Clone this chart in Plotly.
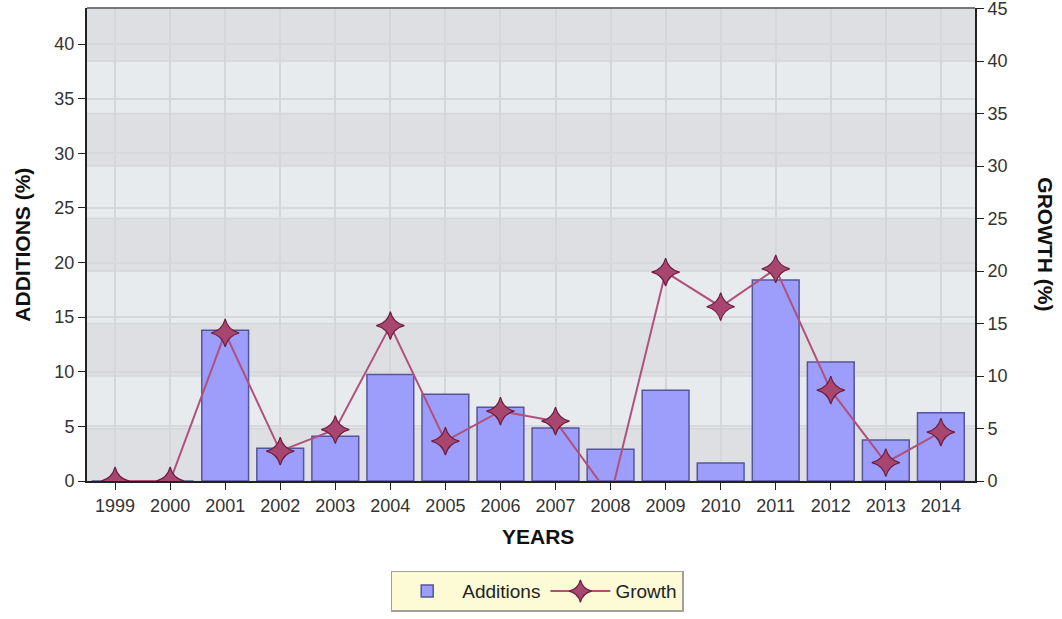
import plotly.graph_objects as go

years = ["1999", "2000", "2001", "2002", "2003", "2004", "2005", "2006",
         "2007", "2008", "2009", "2010", "2011", "2012", "2013", "2014"]
additions = [0, 0, 13.8, 3.0, 4.1, 9.75, 7.95, 6.75, 4.85, 2.9, 8.3, 1.65, 18.4, 10.9, 3.75, 6.25]
growth = [0, 0, 14.1, 2.85, 4.9, 14.8, 3.8, 6.65, 5.7, -1.5, 19.9, 16.6, 20.2, 8.65, 1.75, 4.65]

left_ticks = list(range(0, 45, 5))
right_ticks = list(range(0, 50, 5))

font_name = "Liberation Sans, Arial, sans-serif"

fig = go.Figure()

fig.add_trace(go.Bar(
    x=years, y=additions, name="Additions", width=0.85,
    marker=dict(color="#9d9dfb", line=dict(color="#55559a", width=1.5)),
))

fig.add_trace(go.Scatter(
    x=years, y=growth, name="Growth", yaxis="y2", mode="lines+markers",
    line=dict(color="#b0507c", width=2),
    marker=dict(symbol="star-diamond", size=20, color="#a8466f",
                line=dict(color="#6a2040", width=1.2)),
    cliponaxis=True,
))

# alternating background bands aligned with the right axis ticks
for i in range(0, 9):
    if i % 2 == 0:
        fig.add_shape(type="rect", xref="paper", yref="y2",
                      x0=0, x1=1, y0=right_ticks[i], y1=right_ticks[i] + 5,
                      fillcolor="#dddfe2", line_width=0, layer="below")
    fig.add_shape(type="line", xref="paper", yref="y2",
                  x0=0, x1=1, y0=right_ticks[i], y1=right_ticks[i],
                  line=dict(color="#d4d6da", width=1.5), layer="below")

# top border
fig.add_shape(type="line", xref="paper", yref="paper", x0=0, x1=1, y0=1, y1=1,
              line=dict(color="#777777", width=2))

title_font = dict(size=21, color="#111111", family=font_name)
fig.add_annotation(text="<b>GROWTH (%)</b>", xref="paper", yref="paper",
                   x=1.079, y=0.5, xanchor="center", yanchor="middle",
                   textangle=90, showarrow=False, font=title_font)
fig.add_annotation(text="<b>ADDITIONS (%)</b>", xref="paper", yref="paper",
                   x=-0.073, y=0.5, xanchor="center", yanchor="middle",
                   textangle=-90, showarrow=False, font=title_font)
fig.add_annotation(text="<b>YEARS</b>", xref="paper", yref="paper",
                   x=0.508, y=-0.118, xanchor="center", yanchor="middle",
                   showarrow=False, font=title_font)

fig.update_layout(
    width=1062, height=619,
    margin=dict(l=87, r=87, t=8, b=138, autoexpand=False),
    paper_bgcolor="white",
    plot_bgcolor="#e8ebee",
    font=dict(family=font_name, size=18, color="#333333"),
    showlegend=True,
    legend=dict(orientation="h", x=0.507, xanchor="center", y=-0.233, yanchor="middle",
                bgcolor="#fdfbd6", bordercolor="#a0a0a0", borderwidth=1.5,
                font=dict(size=19, color="#222222"), itemwidth=60),
    xaxis=dict(
        range=[-0.51, 15.62], automargin=False,
        showline=True, linecolor="#222222", linewidth=2,
        ticks="outside", ticklen=7, tickcolor="#222222",
        showgrid=True, gridcolor="#d4d6da", gridwidth=1.5,
        tickfont=dict(size=18, color="#333333"),
    ),
    yaxis=dict(
        range=[0, 43.3], tickvals=left_ticks, automargin=False,
        showline=True, linecolor="#222222", linewidth=2,
        ticks="outside", ticklen=7, tickcolor="#222222",
        showgrid=True, gridcolor="#d6d8db", gridwidth=1.5, zeroline=False,
        tickfont=dict(size=18, color="#333333"),
    ),
    yaxis2=dict(
        range=[0, 45.05], tickvals=right_ticks, overlaying="y", side="right",
        automargin=False, ticklabeloverflow="allow",
        showline=True, linecolor="#222222", linewidth=2,
        ticks="outside", ticklen=7, tickcolor="#222222",
        showgrid=False, zeroline=False,
        tickfont=dict(size=18, color="#333333"),
    ),
)

# the page body has a default 8px margin; drop it so the figure fills the window
fig.write_html("out.html", config={"displayModeBar": False},
               post_script="document.body.style.margin = '0';")
